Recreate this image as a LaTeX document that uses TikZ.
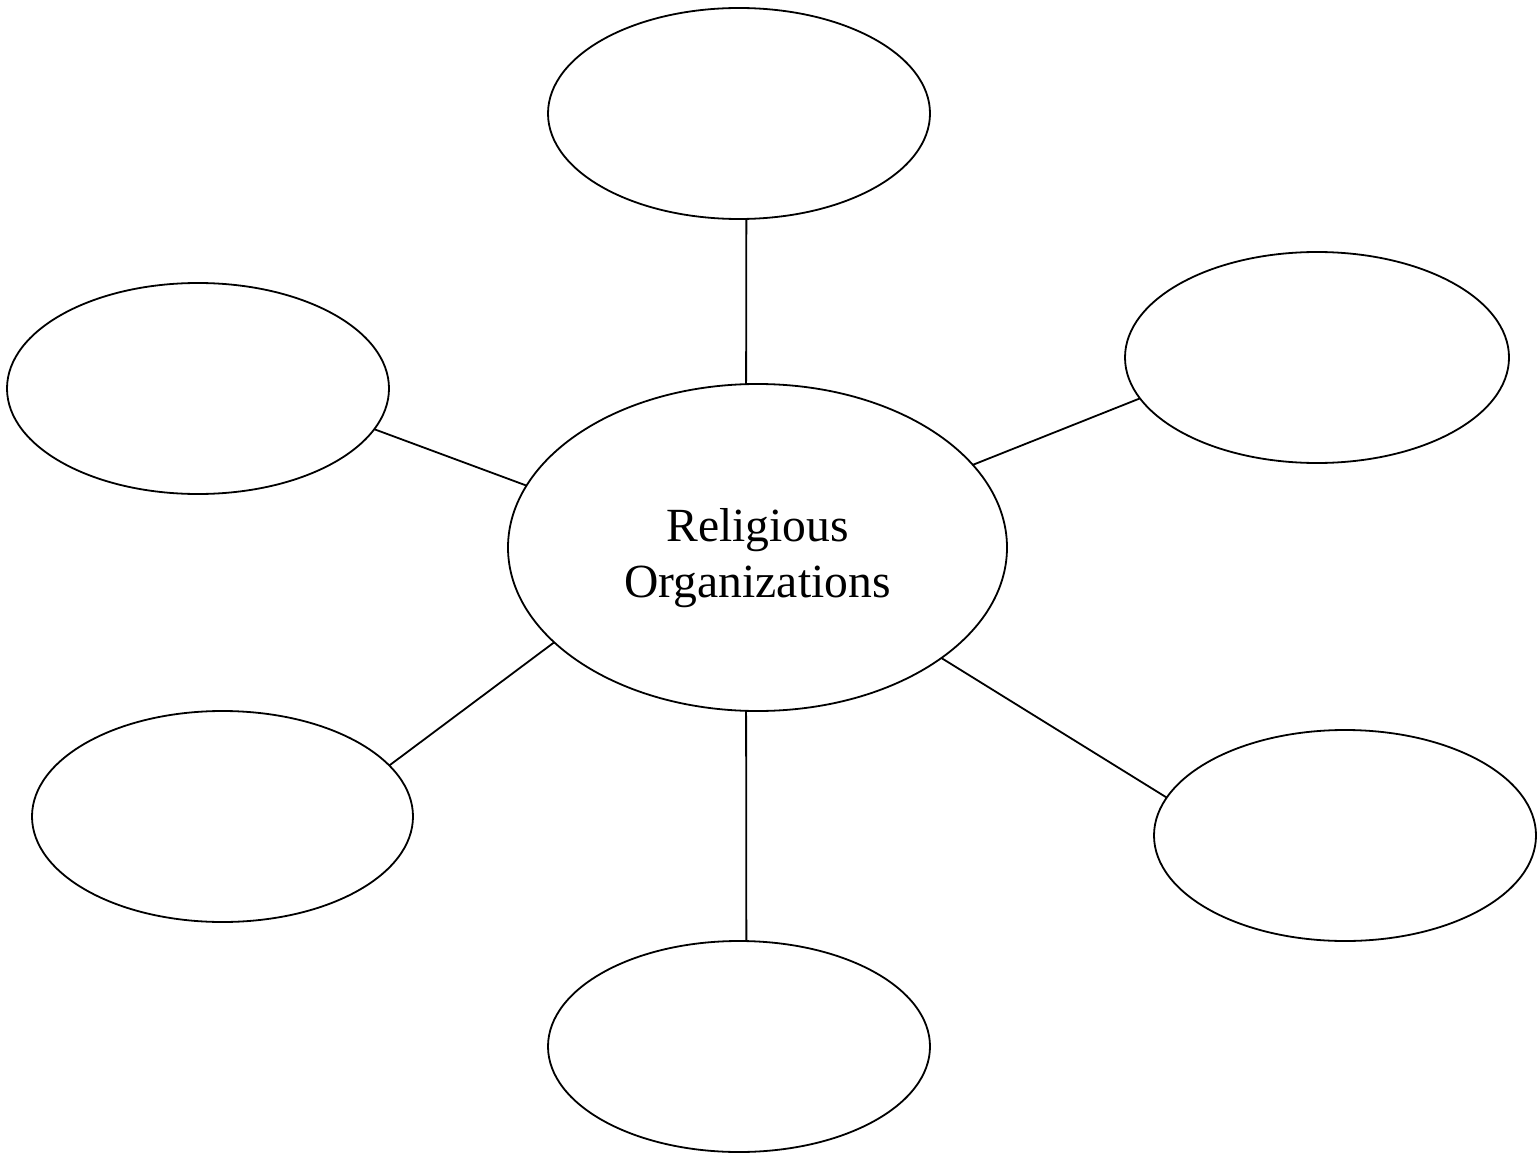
\documentclass[tikz,border=0pt]{standalone}
\usepackage{fontspec}
\setmainfont{Liberation Serif}
\usetikzlibrary{shapes.geometric}
\begin{document}
\begin{tikzpicture}[x=1pt,y=-1pt,
  bubble/.style={draw,ellipse,line width=1.8pt,inner sep=0pt,outer sep=0pt,minimum width=382pt,minimum height=211pt},
  hub/.style={draw,ellipse,line width=1.8pt,inner sep=0pt,outer sep=0pt,minimum width=499pt,minimum height=327pt},
  hubtext/.style={align=center,inner sep=0pt,font=\fontsize{47.6}{56}\selectfont},
  link/.style={line width=1.8pt}]
\useasboundingbox (0,0) rectangle (1538,1155);
\node[hub] (c) at (757.5,547.5) {};
\node[hubtext] (lbl) at (757.5,558) {Religious\\Organizations};
\node[bubble] (t) at (739,113.5) {};
\node[bubble] (lu) at (198,388.5) {};
\node[bubble,minimum width=384pt] (ru) at (1317,357.5) {};
\node[bubble,minimum width=381pt] (ll) at (222.5,816.5) {};
\node[bubble] (rl) at (1345,835.5) {};
\node[bubble] (b) at (739,1046.5) {};
\draw[link] (t.-86.2) -- (c.94.0);
\draw[link] (lu.-13.2) -- (c.165.3);
\draw[link] (ru.-167.9) -- (c.21.2);
\draw[link] (ll.17.1) -- (c.-155);
\draw[link] (rl.168.5) -- (c.-31.6);
\draw[link] (b.86.2) -- (c.-94.0);
\end{tikzpicture}
\end{document}
